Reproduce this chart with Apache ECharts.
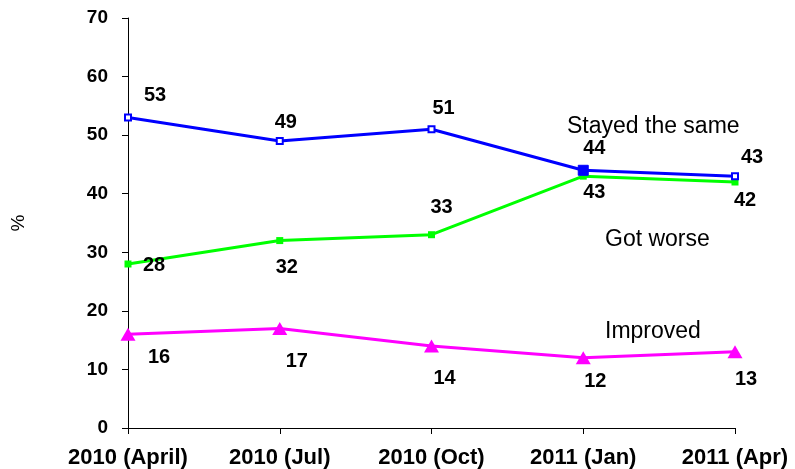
<!DOCTYPE html>
<html>
<head>
<meta charset="utf-8">
<script src="https://cdn.jsdelivr.net/npm/echarts@6/dist/echarts.min.js"></script>
<style>
  html, body { margin: 0; padding: 0; background: #fff; }
  #chart { width: 795px; height: 469px; }
</style>
</head>
<body>
<div id="chart"></div>
<script>
var categories = ['2010 (April)', '2010 (Jul)', '2010 (Oct)', '2011 (Jan)', '2011 (Apr)'];
var sameValues = [53, 49, 51, 44, 43];
var worseValues = [28, 32, 33, 43, 42];
var improvedValues = [16, 17, 14, 12, 13];
var yTicks = [0, 10, 20, 30, 40, 50, 60, 70];

// label offsets (px) from each point
var sameOffsets = [[27, -22], [6, -19], [12, -21], [11, -22], [17, -19]];
var worseOffsets = [[26, 1], [7, 27], [10, -27], [11, 16], [10, 18]];
var improvedOffsets = [[31, 23], [17, 33], [13, 32], [12, 24], [11, 28]];

var font = '"Liberation Sans", Arial, sans-serif';

function buildData(values, offsets, extra){
    var out = [];
    for(var i = 0; i < values.length; i++){
        var d = {value: values[i], label: {offset: offsets[i]}};
        if(extra && extra[i]){
            for(var k in extra[i]) d[k] = extra[i][k];
        }
        out.push(d);
    }
    return out;
}

var labelStyle = {show: true, position: 'inside', color: '#000', fontFamily: font, fontWeight: 'bold', fontSize: 20};

var option = {
    animation: false,
    backgroundColor: '#fff',
    grid: {left: 128, right: 60, top: 18, bottom: 41},
    xAxis: {
        type: 'category',
        data: categories,
        boundaryGap: false,
        axisLine: {lineStyle: {color: '#000', width: 1}},
        axisTick: {show: true, length: 6, lineStyle: {color: '#000'}},
        axisLabel: {color: '#000', fontFamily: font, fontWeight: 'bold', fontSize: 22, margin: 19, interval: 0}
    },
    yAxis: {
        type: 'value',
        min: yTicks[0], max: yTicks[yTicks.length - 1], interval: 10,
        name: '%', nameLocation: 'middle', nameGap: 100, nameRotate: 90,
        nameTextStyle: {color: '#000', fontFamily: font, fontSize: 19},
        axisLine: {show: true, lineStyle: {color: '#000', width: 1}},
        axisTick: {show: true, length: 6, lineStyle: {color: '#000'}},
        splitLine: {show: false},
        axisLabel: {color: '#000', fontFamily: font, fontWeight: 'bold', fontSize: 19, margin: 20}
    },
    series: [
        {
            name: 'Stayed the same', type: 'line', z: 3,
            symbol: 'emptyRect', symbolSize: 6,
            lineStyle: {color: '#0000ff', width: 3},
            itemStyle: {color: '#0000ff', borderColor: '#0000ff', borderWidth: 1},
            label: labelStyle,
            data: buildData(sameValues, sameOffsets, {3: {symbol: 'rect', symbolSize: 10}})
        },
        {
            name: 'Got worse', type: 'line', z: 2,
            symbol: 'rect', symbolSize: 7,
            lineStyle: {color: '#00ff00', width: 3},
            itemStyle: {color: '#00ff00'},
            label: labelStyle,
            data: buildData(worseValues, worseOffsets)
        },
        {
            name: 'Improved', type: 'line', z: 2,
            symbol: 'triangle', symbolSize: [15, 13],
            lineStyle: {color: '#ff00ff', width: 3},
            itemStyle: {color: '#ff00ff'},
            label: labelStyle,
            data: buildData(improvedValues, improvedOffsets)
        }
    ],
    graphic: [
        {type: 'text', left: 567, top: 115, style: {text: 'Stayed the same', font: '23px ' + font, fill: '#000'}},
        {type: 'text', left: 605, top: 228, style: {text: 'Got worse', font: '23px ' + font, fill: '#000'}},
        {type: 'text', left: 605, top: 320, style: {text: 'Improved', font: '23px ' + font, fill: '#000'}}
    ]
};
echarts.init(document.getElementById('chart'), null, {renderer: 'canvas'}).setOption(option);
</script>
</body>
</html>
